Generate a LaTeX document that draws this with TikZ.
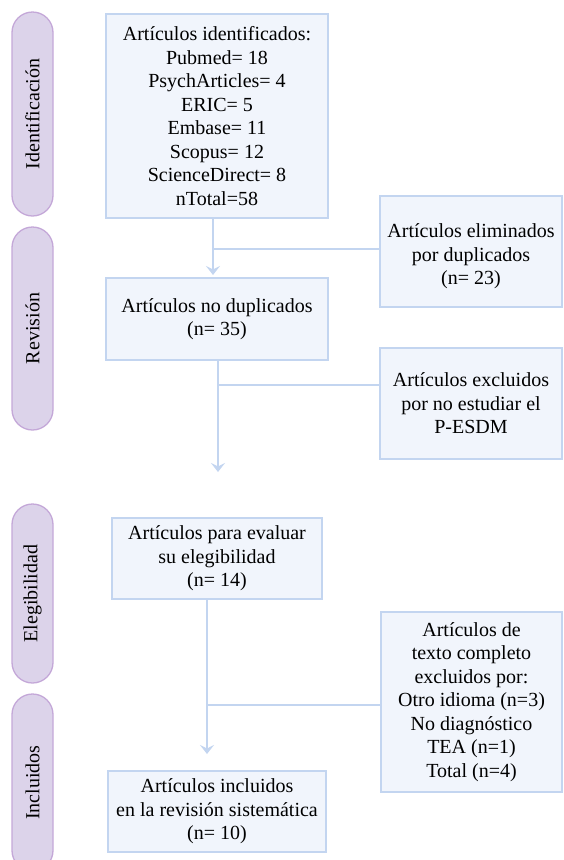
\documentclass[tikz,border=0pt]{standalone}
\usepackage{fontspec}
\setmainfont{Liberation Serif}
\usetikzlibrary{arrows.meta}
\definecolor{boxfill}{HTML}{F1F5FC}
\definecolor{boxline}{HTML}{C3D5F0}
\definecolor{pillfill}{HTML}{DCD3EA}
\definecolor{pillline}{HTML}{C4A8D8}
\begin{document}
\begin{tikzpicture}[x=1pt,y=-1pt,
  font=\fontsize{20}{23.5}\selectfont,
  flowbox/.style={draw=boxline, fill=boxfill, line width=1.6pt, align=center, inner sep=0pt},
  pill/.style={draw=pillline, fill=pillfill, line width=1.3pt, rounded corners=20.5pt,
               rotate=90, minimum height=41pt, inner sep=0pt},
  conn/.style={draw=boxline, line width=2pt},
  arr/.style={conn, -{Stealth[length=9pt,width=14pt,inset=3.5pt]}}]
\clip (0,0) rectangle (563,860);

% phase pills
\node[pill, minimum width=204pt] (P1) at (32.5,114) {Identificación};
\node[pill, minimum width=203pt] (P2) at (32.5,328.5) {Revisión};
\node[pill, minimum width=179pt] (P3) at (32.5,593.5) {Elegibilidad};
\node[pill, minimum width=177pt] (P4) at (32.5,782.5) {Incluidos};

% main boxes
\node[flowbox, minimum width=222pt, minimum height=204pt] (B1) at (217,116)
  {Artículos identificados:\\Pubmed= 18\\PsychArticles= 4\\ERIC= 5\\Embase= 11\\Scopus= 12\\ScienceDirect= 8\\nTotal=58};
\node[flowbox, minimum width=222pt, minimum height=82pt] (B2) at (217,319)
  {Artículos no duplicados\\(n= 35)};
\node[flowbox, minimum width=210pt, minimum height=81pt] (B3) at (217,558.5)
  {Artículos para evaluar\\su elegibilidad\\(n= 14)};
\node[flowbox, minimum width=218pt, minimum height=81pt] (B4) at (217,811.5)
  {Artículos incluidos\\en la revisión sistemática\\(n= 10)};

% side boxes
\node[flowbox, minimum width=182pt, minimum height=111pt,
  label={[align=center, yshift=-5pt]center:Artículos eliminados\\por duplicados\\(n= 23)}] (E1) at (471,251.5) {};
\node[flowbox, minimum width=182pt, minimum height=111pt] (E2) at (471,403.5)
  {Artículos excluidos\\por no estudiar el\\P-ESDM};
\node[flowbox, minimum width=181pt, minimum height=180pt] (E3) at (471.5,702)
  {Artículos de\\texto completo\\excluidos por:\\Otro idioma (n=3)\\No diagnóstico\\TEA (n=1)\\Total (n=4)};

% connectors
\coordinate (t1) at (213,275);
\coordinate (j1) at (213,249);
\draw[arr] (B1.south -| t1) -- (t1);
\draw[conn] (j1) -- (j1 -| E1.west);

\coordinate (t2) at (218,472);
\coordinate (j2) at (218,385);
\draw[arr] (B2.south -| t2) -- (t2);
\draw[conn] (j2) -- (j2 -| E2.west);

\coordinate (t3) at (207,754);
\coordinate (j3) at (207,705);
\draw[arr] (B3.south -| t3) -- (t3);
\draw[conn] (j3) -- (j3 -| E3.west);
\end{tikzpicture}
\end{document}
